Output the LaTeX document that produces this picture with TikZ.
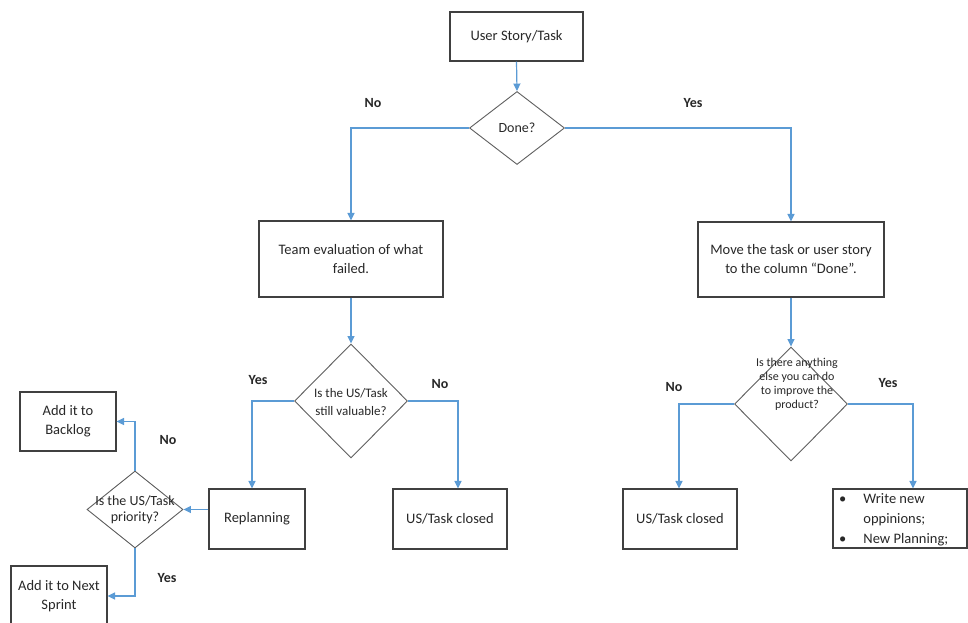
\documentclass[tikz,border=0pt]{standalone}
\usepackage{fontspec}
\setmainfont{Carlito}
\usetikzlibrary{shapes.geometric,arrows.meta}
\definecolor{linkblue}{RGB}{91,155,213}
\definecolor{boxgray}{RGB}{64,64,64}
\definecolor{diagray}{RGB}{95,95,95}
\definecolor{txtgray}{RGB}{40,40,40}
\tikzset{
  box/.style={draw=boxgray, line width=1.1pt, rectangle, inner sep=0pt, align=center,
    text=txtgray, font=\fontsize{14.5}{19}\selectfont},
  dia/.style={draw=diagray, line width=0.9pt, diamond, inner sep=0pt},
  dtext/.style={text=txtgray, align=center, inner sep=0pt},
  conn/.style={draw=linkblue, line width=1.2pt, -{Triangle[width=7pt,length=7.5pt]}},
  lbl/.style={text=txtgray, font=\fontsize{14}{16}\selectfont\bfseries, inner sep=0pt}
}
\begin{document}
\begin{tikzpicture}[x=1pt,y=-1pt]
\clip (0,0) rectangle (968,623);
\fill[white] (0,0) rectangle (968,623);
% nodes
\node[box, minimum width=133pt, minimum height=49pt] (us) at (516.5,36.5) {User Story/Task};
\node[dia, minimum width=95pt, minimum height=73pt] (done) at (517,128) {};
\node[dtext, font=\fontsize{14}{16}\selectfont] (doneT) at (done.center) {Done?};
\node[box, minimum width=184pt, minimum height=76pt] (team) at (351,259) {Team evaluation of what\\failed.};
\node[box, minimum width=186pt, minimum height=75pt] (move) at (791,259.5) {Move the task or user story\\to the column ``Done''.};
\node[dia, minimum width=113pt, minimum height=114pt] (d2) at (351,401) {};
\node[dtext, font=\fontsize{13}{18}\selectfont] (d2T) at (351,402) {Is the US/Task\\still valuable?};
\node[dia, minimum width=113pt, minimum height=114pt] (d4) at (791,404) {};
\node[dtext, font=\fontsize{12}{14}\selectfont] (d4T) at (797,384) {Is there anything\\else you can do\\to improve the\\product?};
\node[box, minimum width=96pt, minimum height=60pt] (repl) at (257,519) {Replanning};
\node[box, minimum width=114pt, minimum height=60pt] (closedA) at (450,519) {US/Task closed};
\node[box, minimum width=114pt, minimum height=60pt] (closedB) at (680,519) {US/Task closed};
\node[box, minimum width=134pt, minimum height=59pt] (write) at (900,518.5) {};
\node[dtext, anchor=west, font=\fontsize{14.5}{20}\selectfont] (writeT) at (839,519.5)
  {\begin{tabular}{@{}l@{\hspace{17pt}}l@{}}\textbullet & Write new\\ & oppinions;\\ \textbullet & New Planning;\end{tabular}};
\node[dia, minimum width=96pt, minimum height=77pt] (d3) at (135,509.5) {};
\node[dtext, font=\fontsize{14}{16}\selectfont] (d3T) at (135,510) {Is the US/Task\\priority?};
\node[box, minimum width=96pt, minimum height=59pt] (backlog) at (68,421.5) {Add it to\\Backlog};
\node[box, minimum width=96pt, minimum height=60pt] (sprint) at (59,596) {Add it to Next\\Sprint};
% connectors
\draw[conn] (us.south) -- (done.north);
\draw[conn] (done.west) -| (team.north);
\draw[conn] (done.east) -| (move.north);
\draw[conn] (team.south) -- (d2.north);
\draw[conn] (move.south) -- (d4.north);
\draw[conn] (d2.west) -| ([xshift=-5pt]repl.north);
\draw[conn] (d2.east) -| ([xshift=8pt]closedA.north);
\draw[conn] (d4.west) -| ([xshift=-1pt]closedB.north);
\draw[conn] (d4.east) -| ([xshift=13pt]write.north);
\draw[conn] (repl.west |- d3.east) -- (d3.east);
\draw[conn] (d3.north) |- (backlog.east);
\draw[conn] (d3.south) |- (sprint.east);
% labels
\node[lbl] (l1) at (373,103) {No};
\node[lbl] (l2) at (693,103) {Yes};
\node[lbl] (l3) at (258,380) {Yes};
\node[lbl] (l4) at (440,384) {No};
\node[lbl] (l5) at (168,440) {No};
\node[lbl] (l6) at (167,578) {Yes};
\node[lbl] (l7) at (674,387) {No};
\node[lbl] (l8) at (888,383) {Yes};
\end{tikzpicture}
\end{document}
